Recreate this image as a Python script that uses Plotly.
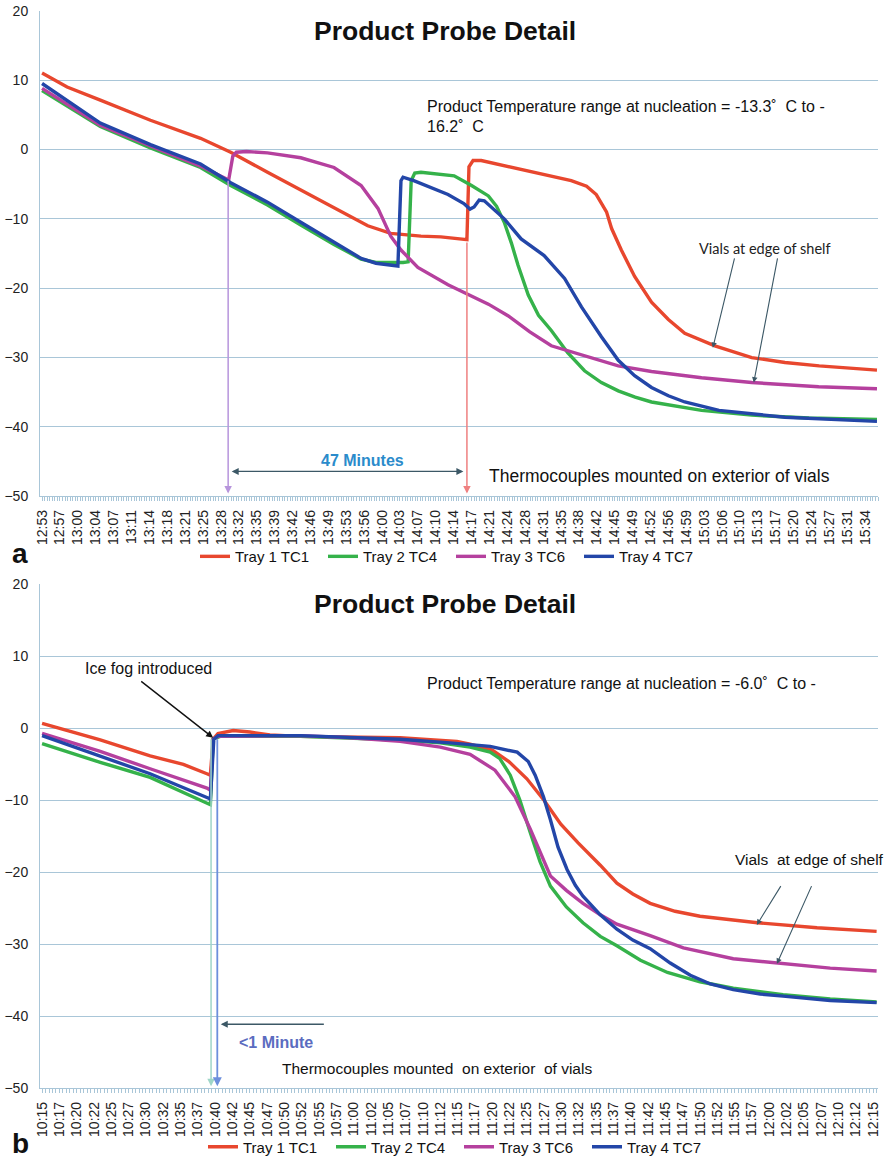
import plotly.graph_objects as go

W, H = 887, 1164
FONT = "Liberation Sans, Arial, sans-serif"

RED, GREEN, PURPLE, BLUE = "#e8472e", "#35b24a", "#b5409e", "#2346a8"
GRID = "#a9c6d8"
NAMES = ["Tray 1 TC1", "Tray 2 TC4", "Tray 3 TC6", "Tray 4 TC7"]
COLORS = [RED, GREEN, PURPLE, BLUE]

# ---------------- Panel a (minutes after 12:53) ----------------
a_ticks = ["12:53", "12:57", "13:00", "13:04", "13:07", "13:11", "13:14", "13:18", "13:21", "13:25",
           "13:28", "13:32", "13:35", "13:39", "13:42", "13:46", "13:49", "13:53", "13:56", "14:00",
           "14:03", "14:07", "14:10", "14:14", "14:17", "14:21", "14:24", "14:28", "14:31", "14:35",
           "14:38", "14:42", "14:45", "14:49", "14:52", "14:56", "14:59", "15:03", "15:06", "15:10",
           "15:13", "15:17", "15:20", "15:24", "15:27", "15:31", "15:34"]
A_STEP = 3.5

a_tc1_t = [0, 4.9, 11.4, 21.2, 31.0, 36.9, 44.1, 53.9, 63.7, 68.2, 74.1, 78.0, 81.0, 83.1, 83.5, 84.3,
           85.9, 93.7, 99.6, 103.5, 106.5, 108.4, 110.4, 111.4, 113.3, 115.9, 119.2, 122.5, 125.7,
           131.6, 138.8, 145.3, 152.0, 158.4, 163.3]
a_tc1_v = [11.0, 9.0, 7.1, 4.2, 1.6, -0.4, -3.3, -7.1, -11.0, -12.1, -12.5, -12.6, -12.8, -13.0, -2.5, -1.6,
           -1.6, -2.9, -3.8, -4.5, -5.3, -6.5, -9.0, -11.4, -14.5, -18.3, -22.0, -24.5, -26.5,
           -28.3, -30.0, -30.7, -31.2, -31.5, -31.8]

a_tc4_t = [0, 11.4, 21.2, 31.0, 36.9, 44.1, 50.6, 57.1, 62.4, 65.3, 70.6, 71.6, 72.2, 72.9, 74.1, 80.6,
           84.0, 87.3, 88.9, 90.4, 91.8, 93.1, 95.1, 97.1, 99.6, 102.8, 106.1, 109.4, 112.7, 116.0,
           119.2, 129.0, 138.8, 150.0, 163.3]
a_tc4_v = [8.5, 3.3, 0.2, -2.6, -5.2, -8.0, -10.9, -13.7, -15.8, -16.3, -16.3, -16.2, -4.5, -3.4, -3.3, -3.8,
           -5.2, -6.7, -8.2, -10.5, -13.5, -16.7, -21.0, -23.9, -26.1, -29.3, -31.9, -33.6, -34.8, -35.7,
           -36.4, -37.6, -38.3, -38.7, -38.9]

a_tc6_t = [0, 5.9, 11.4, 21.2, 31.0, 36.5, 37.3, 38.0, 40.0, 44.1, 50.6, 57.1, 62.4, 65.7, 68.2, 70.2,
           73.5, 79.4, 83.1, 87.3, 91.2, 95.4, 99.6, 106.1, 112.7, 119.2, 129.0, 138.8, 151.9, 163.3]
a_tc6_v = [8.8, 6.0, 3.5, 0.5, -2.4, -4.4, -1.0, -0.4, -0.3, -0.5, -1.2, -2.6, -5.2, -8.5, -12.5, -14.5,
           -17.0, -19.5, -20.8, -22.3, -24.0, -26.3, -28.3, -29.8, -31.2, -32.0, -32.9, -33.6, -34.2, -34.5]

a_tc7_t = [0, 11.4, 21.2, 31.0, 36.9, 44.1, 50.6, 57.1, 62.4, 65.3, 68.8, 69.6, 70.2, 70.6, 72.7, 79.4,
           82.5, 83.7, 84.5, 85.5, 86.5, 90.4, 93.7, 98.2, 102.2, 105.5, 109.4, 112.7, 115.9, 119.2,
           122.5, 125.7, 132.4, 145.3, 163.3]
a_tc7_v = [9.5, 3.8, 0.7, -2.1, -4.8, -7.6, -10.5, -13.3, -15.7, -16.4, -16.7, -16.8, -4.5, -4.0, -4.5, -6.5,
           -7.8, -8.6, -8.3, -7.3, -7.4, -10.0, -12.9, -15.3, -18.6, -22.7, -27.0, -30.4, -32.6, -34.3,
           -35.5, -36.4, -37.6, -38.6, -39.2]

# ---------------- Panel b (minutes after 10:15) ----------------
b_ticks = ["10:15", "10:17", "10:20", "10:22", "10:25", "10:27", "10:30", "10:32", "10:35", "10:37",
           "10:40", "10:42", "10:45", "10:47", "10:50", "10:52", "10:55", "10:57", "11:00", "11:02",
           "11:05", "11:07", "11:10", "11:12", "11:15", "11:17", "11:20", "11:22", "11:25", "11:27",
           "11:30", "11:32", "11:35", "11:37", "11:40", "11:42", "11:45", "11:47", "11:50", "11:52",
           "11:55", "11:57", "12:00", "12:02", "12:05", "12:07", "12:10", "12:12", "12:15"]
B_STEP = 2.5

b_tc1_t = [0, 8.4, 15.6, 20.4, 23.8, 24.3, 24.7, 25.4, 27.6, 30.0, 32.9, 37.3, 51.7, 59.9, 61.8, 65.0,
           67.4, 70.0, 72.5, 74.9, 77.4, 80.6, 83.0, 85.3, 87.8, 91.4, 95.0, 103.3, 111.9, 120.5]
b_tc1_v = [0.7, -1.6, -3.8, -5.0, -6.3, -6.5, -1.5, -0.7, -0.3, -0.5, -0.9, -1.1, -1.3, -1.8, -2.2, -3.0,
           -4.6, -7.0, -10.0, -13.3, -15.9, -19.0, -21.5, -23.0, -24.3, -25.4, -26.1, -27.0, -27.7, -28.2]

b_tc4_t = [0, 8.4, 15.6, 24.3, 24.7, 25.7, 37.3, 44.5, 51.7, 57.5, 61.8, 64.7, 66.1, 67.6, 69.0, 70.5,
           71.9, 73.4, 75.7, 78.1, 80.6, 83.0, 86.4, 90.3, 95.0, 99.8, 107.0, 113.8, 120.5]
b_tc4_v = [-2.1, -4.7, -6.8, -10.6, -1.5, -1.1, -1.1, -1.3, -1.6, -2.0, -2.6, -3.3, -4.2, -6.5, -10.0, -14.5,
           -18.5, -21.9, -24.8, -27.0, -28.9, -30.2, -32.2, -33.9, -35.2, -36.1, -37.0, -37.6, -38.0]

b_tc6_t = [0, 8.4, 15.6, 23.8, 24.3, 24.7, 25.4, 37.3, 44.5, 51.7, 57.5, 61.8, 65.4, 68.3, 70.5, 72.2,
           73.4, 75.7, 78.1, 80.6, 83.0, 87.8, 92.6, 99.8, 107.0, 113.8, 120.5]
b_tc6_v = [-0.7, -3.2, -5.6, -8.3, -8.6, -1.5, -1.1, -1.0, -1.3, -1.8, -2.6, -3.6, -5.8, -9.5, -14.0, -17.8,
           -20.5, -22.5, -24.3, -25.9, -27.2, -28.8, -30.5, -32.0, -32.7, -33.3, -33.7]

b_tc7_t = [0, 8.4, 15.6, 23.8, 24.3, 24.8, 25.4, 37.3, 44.5, 51.7, 58.9, 64.7, 68.6, 70.2, 71.2, 72.4,
           73.4, 74.5, 75.8, 77.0, 78.1, 80.6, 83.0, 85.3, 87.8, 90.7, 93.6, 96.5, 99.8, 103.7, 107.0,
           113.8, 120.5]
b_tc7_v = [-1.0, -3.9, -6.3, -9.6, -9.8, -1.5, -1.0, -1.0, -1.2, -1.5, -2.0, -2.5, -3.3, -4.6, -6.5, -9.5,
           -12.7, -16.5, -19.6, -21.8, -23.3, -25.9, -27.9, -29.4, -30.6, -32.6, -34.3, -35.5, -36.3, -36.9,
           -37.2, -37.8, -38.1]

fig = go.Figure()

a_series = [(a_tc1_t, a_tc1_v), (a_tc4_t, a_tc4_v), (a_tc6_t, a_tc6_v), (a_tc7_t, a_tc7_v)]
b_series = [(b_tc1_t, b_tc1_v), (b_tc4_t, b_tc4_v), (b_tc6_t, b_tc6_v), (b_tc7_t, b_tc7_v)]

for (t, v), name, col in zip(a_series, NAMES, COLORS):
    fig.add_trace(go.Scatter(x=t, y=v, mode="lines", name=name, line=dict(color=col, width=3.4),
                             xaxis="x", yaxis="y", legend="legend"))
for (t, v), name, col in zip(b_series, NAMES, COLORS):
    fig.add_trace(go.Scatter(x=t, y=v, mode="lines", name=name, line=dict(color=col, width=3.4),
                             xaxis="x2", yaxis="y2", legend="legend2"))


def px_x(p):
    return p / W


def px_y(p):
    return 1 - p / H


def xaxis_cfg(ticks, step, rng, anchor):
    return dict(
        range=rng, tickmode="array", tickvals=[i * step for i in range(len(ticks))], ticktext=ticks,
        tickangle=-90, tickfont=dict(family=FONT, size=14, color="#222"), ticklabelstandoff=3,
        ticks="outside", ticklen=4, tickcolor=GRID, showgrid=False, zeroline=False,
        showline=True, linecolor=GRID, linewidth=1, anchor=anchor, automargin=False,
        minor=dict(dtick=0.5, tick0=0, ticks="outside", ticklen=4, tickcolor=GRID, showgrid=False),
    )


def yaxis_cfg(anchor, dom):
    return dict(
        range=[-50, 20], dtick=10, tick0=0, domain=dom, anchor=anchor,
        showgrid=True, gridcolor=GRID, gridwidth=1, zeroline=False,
        showline=True, linecolor=GRID, linewidth=1, ticks="", ticklabelstandoff=8,
        tickfont=dict(family=FONT, size=14, color="#222"), automargin=False,
    )


XDOM = [px_x(40), px_x(878)]
LEG = dict(orientation="h", xanchor="left", yanchor="middle",
           font=dict(family=FONT, size=15, color="#111"), bgcolor="rgba(0,0,0,0)",
           entrywidth=83, entrywidthmode="pixels", itemwidth=30)
fig.update_layout(
    width=W, height=H, margin=dict(l=0, r=0, t=0, b=0),
    paper_bgcolor="white", plot_bgcolor="white",
    font=dict(family=FONT, color="#111"),
    xaxis=dict(xaxis_cfg(a_ticks, A_STEP, [-0.4, 163.5], "y"), domain=XDOM),
    yaxis=yaxis_cfg("x", [px_y(498.5), px_y(10.7)]),
    xaxis2=dict(xaxis_cfg(b_ticks, B_STEP, [-0.3, 120.7], "y2"), domain=XDOM),
    yaxis2=yaxis_cfg("x2", [px_y(1093), px_y(587)]),
    legend=dict(LEG, x=px_x(195), y=px_y(559)),
    legend2=dict(LEG, x=px_x(203), y=px_y(1152)),
)

ann = []


def text(x, y, s, size=16, bold=False, color="#111", xanchor="left", family=FONT):
    ann.append(dict(x=px_x(x), y=px_y(y), xref="paper", yref="paper", text=f"<b>{s}</b>" if bold else s,
                    showarrow=False, xanchor=xanchor, yanchor="middle",
                    font=dict(family=family, size=size, color=color)))


def arrow(xr, yr, x, y, ax, ay, color, width=1.3, head=2, side="end", size=1.0):
    ann.append(dict(xref=xr, yref=yr, axref=xr, ayref=yr, x=x, y=y, ax=ax, ay=ay, text="",
                    showarrow=True, arrowhead=head, arrowsize=size, arrowwidth=width,
                    arrowcolor=color, arrowside=side))


# Panel a labels
text(445, 31, "Product Probe Detail", size=26.5, bold=True, xanchor="center")
text(425, 107, "Product Temperature range at nucleation = -13.3˚  C to -")
text(425, 127, "16.2˚  C")
text(697, 250, "Vials at edge of shelf", size=14.5, family="Lato, Open Sans, sans-serif", color="#222")
text(362, 462, "47 Minutes", size=16, bold=True, color="#2b8bcb", xanchor="center")
text(487, 478, "Thermocouples mounted on exterior of vials", size=17.5)
text(20, 556, "a", size=28, bold=True, xanchor="center")

# nucleation markers and interval in panel a
arrow("x", "y", 36.4, -49.6, 36.4, -4.3, "#b795dc", width=1.5)
arrow("x", "y", 83.1, -49.6, 83.1, -13.2, "#ef8080", width=1.5)
arrow("x", "y", 82.4, -46.4, 36.8, -46.4, "#3c5866", width=1.4, side="end+start")
arrow("x", "y", 131.2, -28.6, 135.5, -15.5, "#3c5866", width=1.1)
arrow("x", "y", 139.2, -33.6, 143.9, -15.5, "#3c5866", width=1.1)

# Panel b labels
text(445, 607, "Product Probe Detail", size=26.5, bold=True, xanchor="center")
text(83, 671, "Ice fog introduced", size=16)
text(425, 686, "Product Temperature range at nucleation = -6.0˚  C to -")
text(733, 863, "Vials  at edge of shelf", size=15.5)
text(237, 1047, "&lt;1 Minute", size=16, bold=True, color="#5b6cc0")
text(280, 1073, "Thermocouples mounted  on exterior  of vials", size=15.5)
text(20, 1148, "b", size=28, bold=True, xanchor="center")

arrow("x2", "y2", 24.7, -1.3, 14.1, 6.7, "#111", width=1.4)
arrow("x2", "y2", 24.4, -49.7, 24.4, -1.3, "#9fd6c8", width=1.5)
arrow("x2", "y2", 25.3, -49.7, 25.3, -1.3, "#6d8fdc", width=1.8)
arrow("x2", "y2", 25.8, -41.1, 40.9, -41.1, "#3c5866", width=1.4)
arrow("x2", "y2", 103.2, -27.3, 106.8, -21.7, "#3c5866", width=1.1)
arrow("x2", "y2", 106.1, -32.7, 111.2, -21.7, "#3c5866", width=1.1)

fig.update_layout(annotations=ann)
fig.write_html("out.html")
